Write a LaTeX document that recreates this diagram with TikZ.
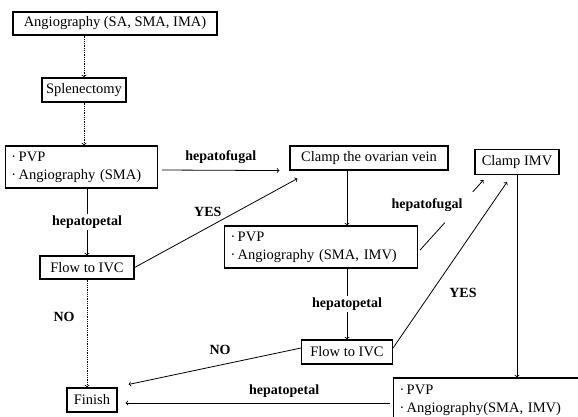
\documentclass[tikz,border=0pt]{standalone}
\usepackage{fontspec}
\setmainfont{Liberation Serif}
\usetikzlibrary{arrows,positioning,calc}

\begin{document}
\begin{tikzpicture}[x=1pt, y=-1pt, every node/.style={font=\fontsize{14.5}{18}\selectfont},
  box/.style={rectangle, draw, line width=1.1pt, inner sep=3pt},
  listbox/.style={box, align=left, inner xsep=6pt, minimum height=42pt},
  lbl/.style={font=\fontsize{14}{16}\selectfont\bfseries, inner sep=2pt},
  link/.style={->, line width=0.8pt},
  dotlink/.style={->, line width=0.8pt, densely dotted}]
	\useasboundingbox (0,0) rectangle (578,416);
	\clip (0,0) rectangle (578,416);
	% left column
	\node[box, minimum width=204pt, minimum height=23pt] (angio) at (115,23.5) {Angiography (SA, SMA, IMA)};
	\node[box, minimum width=84pt, minimum height=24pt] (splen) at (84,90) {Splenectomy};
	\node[listbox, text width=140pt] (pvpA) at (81.5,167) {·\,PVP\\·\,Angiography (SMA)};
	\node[box, minimum width=94pt, minimum height=23pt] (flowA) at (87,267.5) {Flow to IVC};
	\node[box, minimum width=50pt, minimum height=24pt] (finish) at (92,400) {Finish};
	% middle column
	\node[box, minimum width=158pt, minimum height=24pt] (ovar) at (369,158) {Clamp the ovarian vein};
	\node[listbox, text width=181pt] (pvpB) at (321,247) {·\,PVP\\·\,Angiography (SMA, IMV)};
	\node[box, minimum width=91pt, minimum height=24pt] (flowB) at (347,352) {Flow to IVC};
	% right column
	\node[box, minimum width=84pt, minimum height=25pt] (imv) at (517,162) {Clamp IMV};
	\node[listbox, text width=187pt, minimum height=44pt] (pvpC) at (493,400) {·\,PVP\\·\,Angiography(SMA, IMV)};

	\draw[dotlink] (angio.south -| splen.north) -- (splen.north);
	\draw[dotlink] (splen.south) -- (splen.south |- pvpA.north);
	\draw[link] (pvpA.south -| flowA.north) -- node[lbl, fill=white] {hepatopetal} (flowA.north);
	\draw[link] ([shift={(4,3)}]pvpA.east) -- node[lbl, above=4pt] {hepatofugal} ([shift={(-10,0)}]ovar.south west);
	\draw[link] (flowA.east) -- node[lbl, above=8pt, pos=0.45] {YES} ([shift={(8,8)}]ovar.south west);
	\draw[dotlink] (flowA.south) -- node[lbl, left=10pt, pos=0.35] {NO} (flowA.south |- finish.north);

	\draw[link] (ovar.south -| flowB.north) -- (pvpB.north -| flowB.north);
	\draw[link] (pvpB.south -| flowB.north) -- node[lbl, fill=white] {hepatopetal} (flowB.north);
	\path ([shift={(2,3)}]pvpB.east) coordinate (fugB) -- ([shift={(9,5)}]imv.south west) coordinate (fugE)
		coordinate[pos=0.39] (gapA) coordinate[pos=0.83] (gapB);
	\draw[line width=0.8pt] (fugB) -- (gapA);
	\draw[link] (gapB) -- (fugE);
	\node[lbl] (fugal) at (427,205) {hepatofugal};
	\draw[link] ([shift={(0,-4)}]flowB.east) -- ([shift={(-10,7)}]imv.south);
	\node[lbl] (yesB) at (463,293) {YES};
	\draw[link] ([shift={(0,-4)}]flowB.west) -- ([shift={(11,-3)}]finish.north east);
	\node[lbl] (noB) at (220,350) {NO};

	\draw[link] (imv.south) -- (imv.south |- pvpC.north);
	\draw[link] ([shift={(-3,3)}]pvpC.west) -- node[lbl, above=3pt, pos=0.4] {hepatopetal} ([shift={(8,3)}]finish.east);
\end{tikzpicture}
\end{document}
